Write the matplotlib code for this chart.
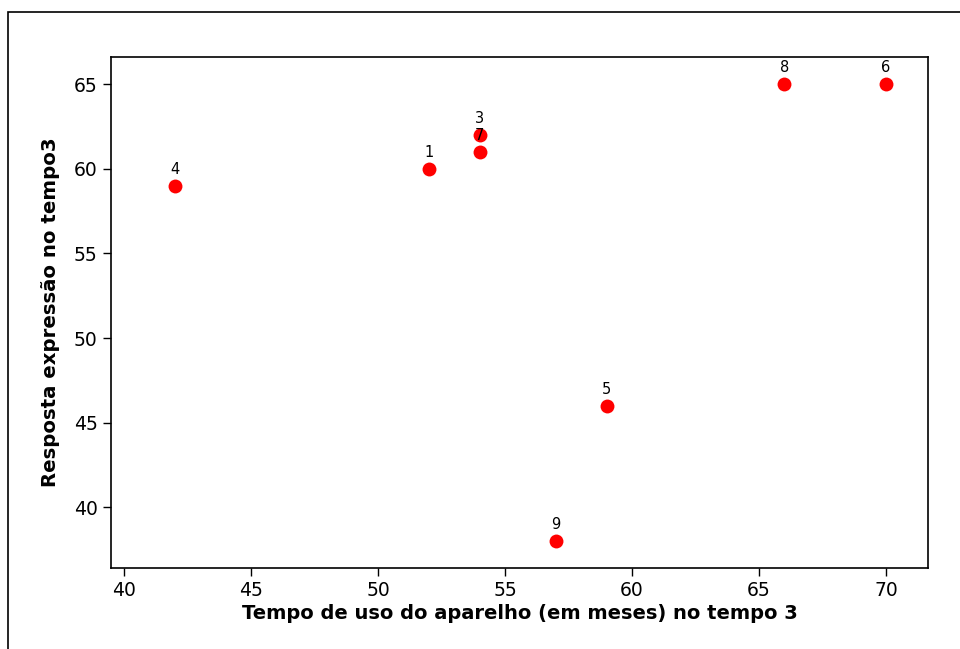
import matplotlib.pyplot as plt
from matplotlib.patches import Rectangle

# dados
tempo_uso = [52, 54, 42, 59, 70, 54, 66, 57]
resposta = [60, 62, 59, 46, 65, 61, 65, 38]
rotulos = ['1', '3', '4', '5', '6', '7', '8', '9']

x_ticks = [40, 45, 50, 55, 60, 65, 70]
y_ticks = [40, 45, 50, 55, 60, 65]


def plot_scatter():
    fig = plt.figure(figsize=(9.6, 6.49), dpi=100)
    W, H = 960, 649
    ax = fig.add_axes([111 / W, 1 - 568 / H, (928 - 111) / W, (568 - 57) / H])

    # moldura externa do gráfico
    fig.patches.append(Rectangle((7.5 / W, -0.1), 1.2, 1 - 12.5 / H + 0.1,
                                 transform=fig.transFigure, fill=False,
                                 edgecolor='black', linewidth=1.2))

    ax.scatter(tempo_uso, resposta, s=100, color='#ff0000', zorder=3, linewidths=0)
    for x, y, r in zip(tempo_uso, resposta, rotulos):
        ax.annotate(r, (x, y), xytext=(0, 6.5), textcoords='offset points',
                    ha='center', va='bottom', fontsize=10.5)

    ax.set_xlim(39.49, 71.65)
    ax.set_ylim(36.42, 66.6)
    ax.set_xticks(x_ticks)
    ax.set_yticks(y_ticks)
    ax.tick_params(labelsize=13.5, length=6, width=1)
    for s in ax.spines.values():
        s.set_linewidth(1.2)

    ax.set_xlabel('Tempo de uso do aparelho (em meses) no tempo 3',
                  fontsize=14, fontweight='bold', labelpad=3)
    ax.set_ylabel('Resposta expressão no tempo3',
                  fontsize=14.2, fontweight='bold', labelpad=10)

    plt.savefig('out.png', dpi=100)


plot_scatter()
